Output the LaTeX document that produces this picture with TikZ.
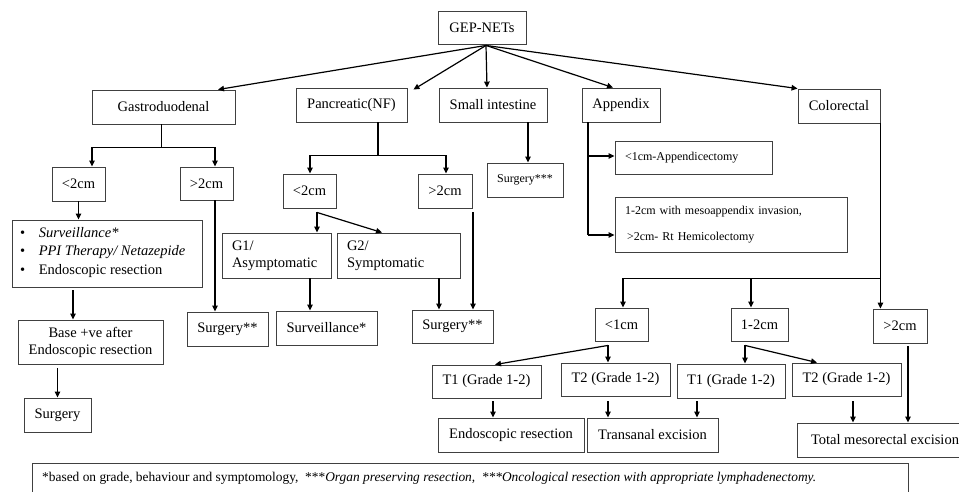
\documentclass[tikz,border=0pt]{standalone}
\usepackage{fontspec}
\setmainfont{Liberation Serif}
\usetikzlibrary{arrows.meta,calc}
\begin{document}
\begin{tikzpicture}[x=1pt,y=-1pt,
  box/.style={draw=black!75,line width=0.9pt,rectangle,inner sep=0pt,font=\fontsize{14.5}{17}\selectfont,align=center},
  sbox/.style={box,font=\fontsize{12}{14}\selectfont},
  lbox/.style={box,align=left,inner xsep=10pt},
  line/.style={draw=black,line width=1.2pt},
  arr/.style={line,-{Triangle[length=6pt,width=5.5pt]}}]
\useasboundingbox (0,0) rectangle (959,492);
\clip (0,0) rectangle (959,492);
\fill[white] (0,0) rectangle (959,492);
% top level
\node[box,minimum width=88,minimum height=33] (gep) at (482,27.5) {GEP-NETs};
\node[box,minimum width=143,minimum height=34] (gastro) at (163.5,107) {Gastroduodenal};
\node[box,minimum width=111,minimum height=34] (panc) at (351.5,105) {Pancreatic(NF)};
\node[box,minimum width=108,minimum height=34] (small) at (493,105) {Small intestine};
\node[box,minimum width=78,minimum height=34] (app) at (621,105) {Appendix};
\node[box,minimum width=82,minimum height=34] (colo) at (839,106) {Colorectal};
% gastroduodenal
\node[box,minimum width=53,minimum height=34] (glt) at (78.5,184) {<2cm};
\node[box,minimum width=53,minimum height=33] (ggt) at (206.5,183.5) {>2cm};
\node[box,minimum width=190,minimum height=67] (bullets) at (107,253.5) {};
\node[anchor=west,align=left,inner sep=0pt,font=\fontsize{14.5}{18.5}\selectfont] (btext) at (20,252.5)
  {\textbullet\hspace{13.5pt}\textit{Surveillance*}\\ \textbullet\hspace{13.5pt}\textit{PPI Therapy/ Netazepide}\\ \textbullet\hspace{13.5pt}Endoscopic resection};
\node[box,minimum width=145,minimum height=44] (base) at (90.5,342) {Base +ve after\\Endoscopic resection};
\node[box,minimum width=67,minimum height=34] (surga) at (57.5,415) {Surgery};
\node[box,minimum width=81,minimum height=34] (surgb) at (227.5,329) {Surgery**};
% pancreatic
\node[box,minimum width=53,minimum height=34] (plt) at (309.5,191) {<2cm};
\node[box,minimum width=54,minimum height=34] (pgt) at (445,191) {>2cm};
\node[lbox,text width=89,minimum height=45] (gone) at (276.5,255.5) {G1/\\Asymptomatic};
\node[lbox,text width=103,minimum height=45] (gtwo) at (398.5,255.5) {G2/\\Symptomatic};
\node[box,minimum width=101,minimum height=34] (surv) at (326.5,328) {Surveillance*};
\node[box,minimum width=81,minimum height=33] (surgc) at (452.5,326.5) {Surgery**};
% small intestine
\node[sbox,minimum width=76,minimum height=34] (surgd) at (525,180) {Surgery***};
% appendix
\node[sbox,align=left,inner xsep=10pt,text width=137,minimum height=33] (appa) at (693.5,157.5) {<1cm-Appendicectomy};
\node[sbox,align=left,inner xsep=10pt,text width=212,minimum height=55] (appb) at (731,224.5) {1-2cm with mesoappendix invasion,\\[12pt] \,>2cm- Rt Hemicolectomy};
% colorectal
\node[box,minimum width=53,minimum height=33] (clt) at (621.5,324.5) {<1cm};
\node[box,minimum width=57,minimum height=33] (cmid) at (759.5,324.5) {1-2cm};
\node[box,minimum width=54,minimum height=34] (cgt) at (900,326) {>2cm};
\node[box,minimum width=109,minimum height=33] (toa) at (486.5,381.5) {T1 (Grade 1-2)};
\node[box,minimum width=109,minimum height=33] (twa) at (615.5,379.5) {T2 (Grade 1-2)};
\node[box,minimum width=108,minimum height=34] (tob) at (731,381) {T1 (Grade 1-2)};
\node[box,minimum width=109,minimum height=33] (twb) at (846.5,379.5) {T2 (Grade 1-2)};
\node[box,minimum width=146,minimum height=34] (endo) at (511,435) {Endoscopic resection};
\node[box,minimum width=131,minimum height=34] (trans) at (652.5,435) {Transanal excision};
\node[box,minimum width=176,minimum height=34] (tme) at (885,440) {Total mesorectal excision};
% footnote
\node[box,minimum width=876,minimum height=60] (foot) at (470,493) {};
\node[anchor=west,inner sep=0pt,font=\fontsize{13.4}{15}\selectfont] (ftext) at (42,478)
  {*based on grade, behaviour and symptomology,\ \ ***\textit{Organ preserving resection,}\ \ \textit{***Oncological resection with appropriate lymphadenectomy.}};
% connectors from root
\coordinate (gepo) at ($(gep.south)+(4,1)$);
\draw[arr] (gepo) -- ($(gastro.north)+(54.5,0)$);
\draw[arr] (gepo) -- ($(panc.north east)+(6,2)$);
\draw[arr] (gepo) -- ($(small.north)+(-6,0)$);
\draw[arr] (gepo) -- ($(app.north)+(-8,0)$);
\draw[arr] (gepo) -- (colo.north west);
% gastroduodenal
\coordinate (gj) at ($(gastro.south)+(-2,23)$);
\draw[line] ($(gastro.south)+(-2,0)$) -- (gj);
\draw[arr] (gj) -| ($(glt.north)+(13.5,0)$);
\draw[arr] (gj) -| ($(ggt.north)+(8.5,0)$);
\draw[arr] (glt.south) -- (glt.south |- bullets.north);
\coordinate (bx) at ($(bullets.south)+(-34,3)$);
\draw[arr] (bx) -- (bx |- base.north);
\draw[arr] ($(surga.north |- base.south)+(0,4)$) -- (surga.north);
\coordinate (gx) at ($(ggt.south)+(8.5,0)$);
\draw[arr] (gx) -- (gx |- surgb.north);
% pancreatic
\coordinate (pj) at ($(panc.south)+(26.5,33)$);
\draw[line] ($(panc.south)+(26.5,0)$) -- (pj);
\draw[arr] (pj) -| ($(plt.north)+(0.5,0)$);
\draw[arr] (pj) -| ($(pgt.north)+(1,0)$);
\coordinate (po) at ($(plt.south)+(7.5,4)$);
\draw[arr] (po) -- (po |- gone.north);
\draw[arr] (po) -- ($(gtwo.north)+(-16.5,0)$);
\coordinate (sx) at ($(surv.north)+(-16.5,0)$);
\draw[arr] (sx |- gone.south) -- (sx);
\coordinate (cx) at ($(surgc.north)+(-13.5,0)$);
\draw[arr] (cx |- gtwo.south) -- (cx);
\coordinate (dx) at ($(surgc.north)+(20.5,0)$);
\draw[arr] ($(dx |- pgt.south)+(0,4)$) -- (dx);
% small intestine
\coordinate (ix) at ($(surgd.north)+(3,0)$);
\draw[arr] (ix |- small.south) -- (ix);
% appendix
\coordinate (ap) at ($(app.south)+(-33,0)$);
\coordinate (apb) at ($(appb.west)+(0,10.5)$);
\draw[line] (ap) -- (ap |- apb);
\draw[arr] ($(ap |- appa.west)+(0,-1.5)$) -- ($(appa.west)+(0,-1.5)$);
\draw[arr] (ap |- apb) -- (apb);
% colorectal
\coordinate (cj) at ($(colo.south east)+(0,155)$);
\draw[arr] (colo.south east) -- (colo.south east |- cgt.north);
\draw[arr] (cj) -| ($(clt.north)+(1.5,0)$);
\coordinate (cmt) at ($(cmid.north)+(-8.5,0)$);
\draw[arr] (cmt |- cj) -- (cmt);
\coordinate (coa) at ($(clt.south)+(-13.5,4)$);
\draw[arr] (coa) -- ($(toa.north)+(8.5,0)$);
\draw[arr] (coa) -- (coa |- twa.north);
\coordinate (cob) at ($(cmid.south)+(-14.5,4)$);
\draw[arr] (cob) -- (cob |- tob.north);
\draw[arr] (cob) -- ($(twb.north)+(-29.5,0)$);
\coordinate (e1) at ($(toa.south)+(6.5,3)$);
\draw[arr] (e1) -- (e1 |- endo.north);
\coordinate (e2) at ($(twa.south)+(-7.5,5)$);
\draw[arr] (e2) -- (e2 |- trans.north);
\coordinate (e3) at ($(tob.south)+(-34,3)$);
\draw[arr] (e3) -- (e3 |- trans.north);
\coordinate (e4) at ($(twb.south)+(6.5,5)$);
\draw[arr] (e4) -- (e4 |- tme.north);
\coordinate (e5) at ($(cgt.south)+(8,3)$);
\draw[arr] (e5) -- (e5 |- tme.north);
\end{tikzpicture}
\end{document}
